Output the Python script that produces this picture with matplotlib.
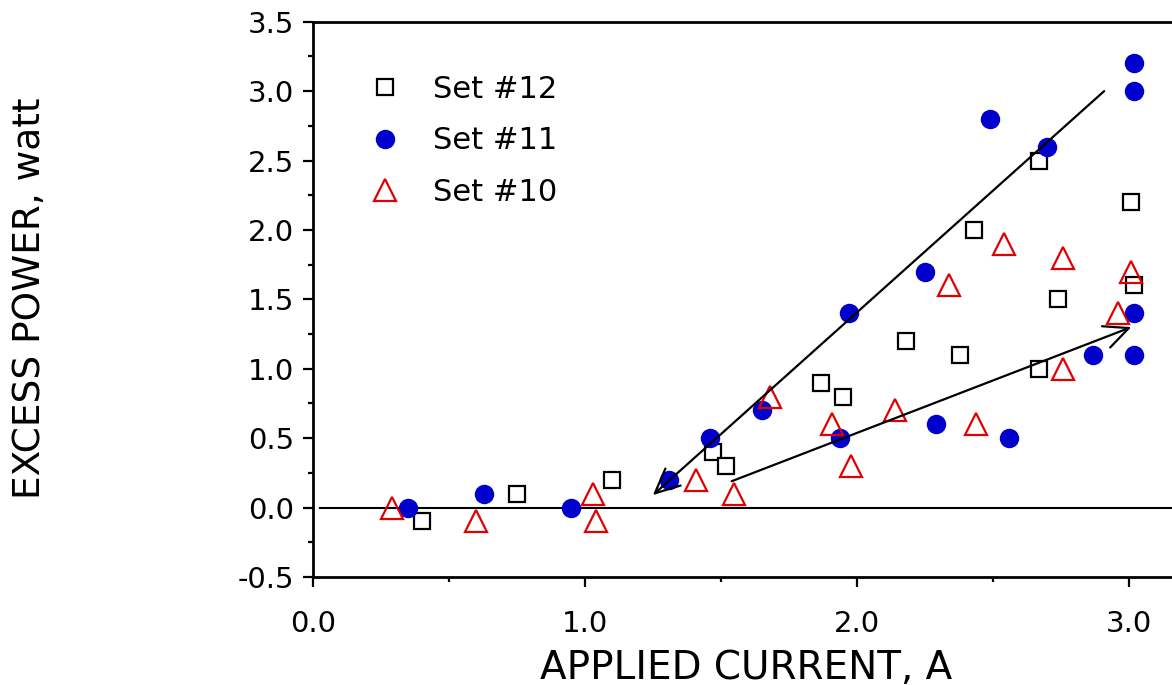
import matplotlib
matplotlib.use("Agg")
import matplotlib.pyplot as plt
from matplotlib.ticker import MultipleLocator, FormatStrFormatter

# ---- data ----
set12_x = [0.40, 0.75, 1.10, 1.47, 1.52, 1.87, 1.95, 2.18, 2.38, 2.43, 2.67, 2.74, 2.67, 3.01, 3.02]
set12_y = [-0.10, 0.10, 0.20, 0.40, 0.30, 0.90, 0.80, 1.20, 1.10, 2.00, 2.50, 1.50, 1.00, 2.20, 1.60]

set11_x = [0.35, 0.63, 0.95, 1.31, 1.46, 1.65, 1.94, 1.97, 2.25, 2.29, 2.49, 2.56, 2.70, 2.87, 3.02, 3.02, 3.02, 3.02]
set11_y = [0.00, 0.10, 0.00, 0.20, 0.50, 0.70, 0.50, 1.40, 1.70, 0.60, 2.80, 0.50, 2.60, 1.10, 3.20, 3.00, 1.40, 1.10]

set10_x = [0.29, 0.60, 1.03, 1.04, 1.41, 1.55, 1.68, 1.91, 1.98, 2.14, 2.34, 2.44, 2.54, 2.76, 2.76, 2.96, 3.01]
set10_y = [0.00, -0.10, 0.10, -0.10, 0.20, 0.10, 0.80, 0.60, 0.30, 0.70, 1.60, 0.60, 1.90, 1.80, 1.00, 1.40, 1.70]

# arrows: (tail, head)
arrow1 = ((2.91, 3.00), (1.25, 0.09))
arrow2 = ((1.54, 0.19), (3.01, 1.30))

labels = ["Set #12", "Set #11", "Set #10"]
xticks = [0.0, 1.0, 2.0, 3.0]
yticks = [-0.5, 0.0, 0.5, 1.0, 1.5, 2.0, 2.5, 3.0, 3.5]

BLUE = "#0000cc"
RED = "#e00000"

plt.rcParams['font.family'] = ['DejaVu Sans']

fig = plt.figure(figsize=(11.72, 6.85), dpi=100)
ax = fig.add_axes([313 / 1172, 1 - 577 / 685, 870 / 1172, (577 - 21.7) / 685])

ax.plot([0.025, 3.2], [0, 0], color="black", lw=1.5, zorder=1)

ax.plot(set12_x, set12_y, linestyle="none", marker="s", ms=11.5, mfc="white",
        mec="black", mew=1.6, label=labels[0], zorder=3)
ax.plot(set11_x, set11_y, linestyle="none", marker="o", ms=14, mfc=BLUE,
        mec=BLUE, mew=0, label=labels[1], zorder=3)
ax.plot(set10_x, set10_y, linestyle="none", marker="^", ms=16, mfc="none",
        mec=RED, mew=1.6, label=labels[2], zorder=4)

for (tail, head) in (arrow1, arrow2):
    ax.annotate("", xy=head, xytext=tail,
                arrowprops=dict(arrowstyle="->,head_length=0.88,head_width=0.41",
                                lw=1.6, color="black", mutation_scale=20,
                                shrinkA=0, shrinkB=0),
                zorder=5)

ax.set_xlim(0, 3.2)
ax.set_ylim(-0.5, 3.5)
ax.set_xticks(xticks)
ax.set_yticks(yticks)
ax.xaxis.set_minor_locator(MultipleLocator(0.5))
ax.yaxis.set_minor_locator(MultipleLocator(0.25))
ax.xaxis.set_major_formatter(FormatStrFormatter("%.1f"))
ax.yaxis.set_major_formatter(FormatStrFormatter("%.1f"))

for s in ("left", "bottom", "top"):
    ax.spines[s].set_linewidth(2.0)
ax.spines["right"].set_visible(False)

ax.tick_params(axis="both", which="major", direction="out", length=7.5, width=1.6,
               labelsize=21, top=False, right=False)
ax.tick_params(axis="both", which="minor", direction="out", length=3.8, width=1.6,
               top=False, right=False)
ax.tick_params(axis="x", which="major", pad=16)
ax.tick_params(axis="y", which="major", pad=6)

leg = ax.legend(loc="upper left", bbox_to_anchor=(0.065, 0.904), frameon=False,
                fontsize=22, handlelength=1.0, handletextpad=1.07,
                labelspacing=0.73, borderpad=0, borderaxespad=0, numpoints=1)

fig.text(746 / 1172, 1 - 679 / 685, "APPLIED CURRENT, A", fontsize=28,
         ha="center", va="baseline")
fig.text(30 / 1172, 1 - 298 / 685, "EXCESS POWER, watt", fontsize=27,
         ha="center", va="center", rotation=90)

fig.savefig("out.png", dpi=100)
